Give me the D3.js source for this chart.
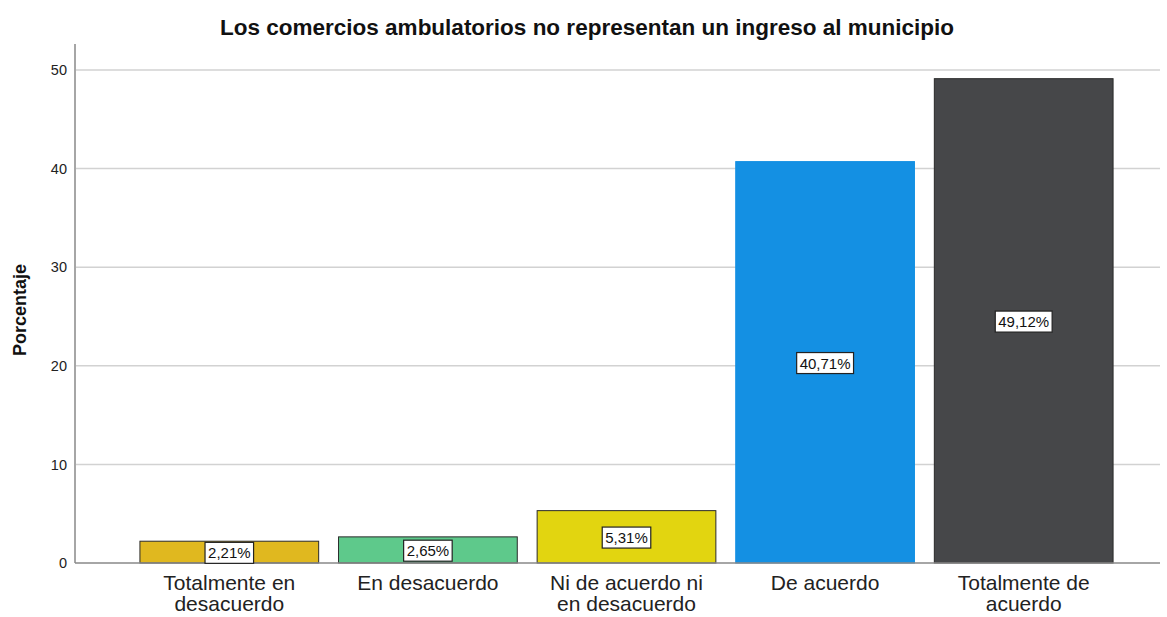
<!DOCTYPE html>
<html>
<head>
<meta charset="utf-8">
<script src="https://cdn.jsdelivr.net/npm/d3@7"></script>
<style>
  body { margin: 0; background: #fff; }
  svg { font-family: "Liberation Sans", Arial, sans-serif; }
</style>
</head>
<body>
<svg id="chart"></svg>
<script>
const categories = [
  ['Totalmente en', 'desacuerdo'],
  ['En desacuerdo'],
  ['Ni de acuerdo ni', 'en desacuerdo'],
  ['De acuerdo'],
  ['Totalmente de', 'acuerdo']
];
const values = [2.21, 2.65, 5.31, 40.71, 49.12];
const labels = ['2,21%', '2,65%', '5,31%', '40,71%', '49,12%'];
const colors = ['#e0b81f', '#5ec98b', '#e2d510', '#1490e3', '#464749'];
const yTicks = [0, 10, 20, 30, 40, 50];

const width = 1167, height = 617;
const svg = d3.select('#chart').attr('width', width).attr('height', height);

const x = d3.scaleBand()
  .domain(d3.range(values.length))
  .range([130, 1123])
  .paddingInner(0.1)
  .paddingOuter(0.05);

const y = d3.scaleLinear()
  .domain([0, 50])
  .range([563, 70]);

// gridlines
svg.append('g').selectAll('line').data(yTicks.filter(d => d > 0))
  .enter().append('line')
    .attr('x1', 76).attr('x2', 1160)
    .attr('y1', d => y(d)).attr('y2', d => y(d))
    .attr('stroke', '#d2d2d2').attr('stroke-width', 1.5);

// y axis
const yAxis = svg.append('g')
  .attr('transform', 'translate(75,0)')
  .call(d3.axisLeft(y).tickValues(yTicks).tickSize(0).tickPadding(8));
yAxis.select('.domain').remove();
yAxis.selectAll('text').attr('font-size', 14.5).attr('fill', '#222')
  .attr('font-family', '"Liberation Sans", Arial, sans-serif');
svg.append('line')
  .attr('x1', 75).attr('x2', 75).attr('y1', 44).attr('y2', y(0))
  .attr('stroke', '#888').attr('stroke-width', 1.5);

// bars
svg.append('g').selectAll('rect').data(values)
  .enter().append('rect')
    .attr('x', (d, i) => x(i))
    .attr('y', d => y(d))
    .attr('width', x.bandwidth())
    .attr('height', d => y(0) - y(d))
    .attr('fill', (d, i) => colors[i])
    .attr('stroke', (d, i) => i === 3 ? colors[i] : '#2a2a2a')
    .attr('stroke-width', 1);

// baseline
svg.append('line')
  .attr('x1', 75).attr('x2', 1160).attr('y1', y(0)).attr('y2', y(0))
  .attr('stroke', '#888').attr('stroke-width', 1.5);

// value labels
const lab = svg.append('g').selectAll('g').data(values)
  .enter().append('g')
    .attr('transform', (d, i) => `translate(${x(i) + x.bandwidth() / 2},${y(d / 2) + 1})`);
lab.append('text')
  .attr('text-anchor', 'middle')
  .attr('dy', '0.35em')
  .attr('font-size', 15)
  .attr('fill', '#111')
  .text((d, i) => labels[i]);
lab.each(function () {
  const g = d3.select(this);
  const bb = g.select('text').node().getBBox();
  g.insert('rect', 'text')
    .attr('x', bb.x - 3).attr('y', bb.y - 2)
    .attr('width', bb.width + 6).attr('height', bb.height + 4)
    .attr('fill', '#fff').attr('stroke', '#222').attr('stroke-width', 1.2);
});

// category labels
const cat = svg.append('g').selectAll('text').data(categories)
  .enter().append('text')
    .attr('x', (d, i) => x(i) + x.bandwidth() / 2)
    .attr('y', 590)
    .attr('text-anchor', 'middle')
    .attr('font-size', 21)
    .attr('fill', '#222');
cat.selectAll('tspan').data(d => d)
  .enter().append('tspan')
    .attr('x', function () { return d3.select(this.parentNode).attr('x'); })
    .attr('dy', (d, i) => i === 0 ? 0 : 21)
    .text(d => d);

// title
svg.append('text')
  .attr('x', 587).attr('y', 35)
  .attr('text-anchor', 'middle')
  .attr('font-size', 22.5)
  .attr('font-weight', 'bold')
  .attr('fill', '#111')
  .text('Los comercios ambulatorios no representan un ingreso al municipio');

// y label
svg.append('text')
  .attr('transform', 'translate(26,310) rotate(-90)')
  .attr('text-anchor', 'middle')
  .attr('font-size', 18)
  .attr('font-weight', 'bold')
  .attr('fill', '#111')
  .text('Porcentaje');
</script>
</body>
</html>
